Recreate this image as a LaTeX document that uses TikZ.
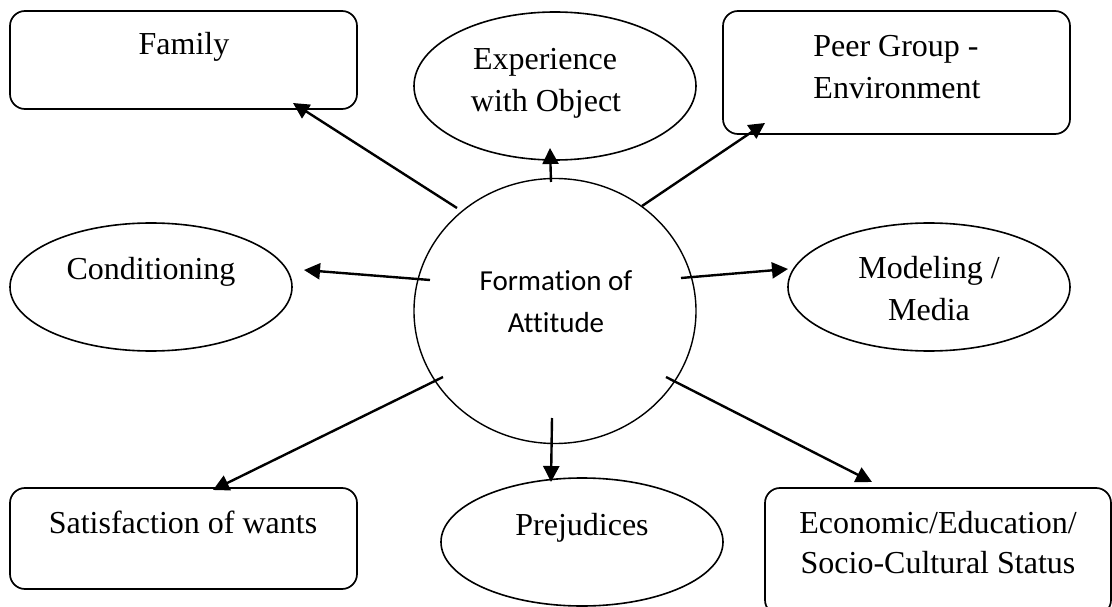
\documentclass[tikz,border=0pt]{standalone}
\usepackage{fontspec}
\setmainfont{Liberation Serif}
\newfontfamily\calfont[Ligatures=NoCommon]{Carlito}
\usetikzlibrary{shapes.geometric,arrows.meta}
\begin{document}
\begin{tikzpicture}[x=1pt,y=-1pt,
  box/.style={draw, line width=1.7pt, rounded corners=15pt, inner sep=0pt, rectangle},
  oval/.style={draw, ellipse, line width=1.6pt, inner sep=0pt},
  lbl/.style={anchor=base, inner sep=0pt, font=\fontsize{32}{38}\selectfont},
  clbl/.style={anchor=base, inner sep=0pt, font=\calfont\fontsize{29}{35}\selectfont},
  arr/.style={-{Triangle[length=16pt,width=16pt]}, line width=2.4pt}]
\useasboundingbox (0,0) rectangle (1112,607);
\fill[white] (0,0) rectangle (1112,607);
\clip (0,0) rectangle (1112,607);
% shapes
\node[box, minimum width=347pt, minimum height=98pt] (family) at (183.5,60) {};
\node[oval, minimum width=282pt, minimum height=148pt] (exper) at (555,86) {};
\node[box, minimum width=347pt, minimum height=123pt] (peer) at (896.5,72.5) {};
\node[oval, minimum width=282pt, minimum height=128pt] (cond) at (151,287) {};
\node[oval, line width=1.4pt, minimum width=282pt, minimum height=265pt] (form) at (555,311) {};
\node[oval, minimum width=282pt, minimum height=128pt] (model) at (929,287) {};
\node[box, minimum width=347pt, minimum height=101pt] (satis) at (183.5,538.5) {};
\node[oval, minimum width=282pt, minimum height=128pt] (prej) at (582,542) {};
\node[box, minimum width=346pt, minimum height=127pt] (econ) at (938,551.5) {};
% texts
\node[lbl] (tfamily) at (184,55) {Family};
\node[lbl] (texper1) at (545,70) {Experience};
\node[lbl] (texper2) at (546,112) {with Object};
\node[lbl] (tpeer1) at (896,57) {Peer Group -};
\node[lbl] (tpeer2) at (897,99) {Environment};
\node[lbl] (tcond) at (151,279) {Conditioning};
\node[clbl] (tform1) at (556,290) {Formation of};
\node[clbl] (tform2) at (556,332) {Attitude};
\node[lbl] (tmodel1) at (929,278) {Modeling /};
\node[lbl] (tmodel2) at (929,320) {Media};
\node[lbl] (tsatis) at (183,533) {Satisfaction of wants};
\node[lbl] (tprej) at (582,535) {Prejudices};
\node[lbl] (tecon1) at (938,533) {Economic/Education/};
\node[lbl] (tecon2) at (938,573) {Socio-Cultural Status};
% connector end points
\coordinate (sFam) at (457,208);  \coordinate (eFam) at (293,103);
\coordinate (sExp) at (551,182);  \coordinate (eExp) at (550,148);
\coordinate (sPeer) at (642,206); \coordinate (ePeer) at (765,123);
\coordinate (sCond) at (430,280); \coordinate (eCond) at (304,270);
\coordinate (sMod) at (681,278);  \coordinate (eMod) at (788,269);
\coordinate (sSat) at (443,377);  \coordinate (eSat) at (213,490);
\coordinate (sPrej) at (552,418); \coordinate (ePrej) at (551,482);
\coordinate (sEcon) at (666,377); \coordinate (eEcon) at (872,482);
% connectors
\draw[arr] (sFam) -- (eFam);
\draw[arr] (sExp) -- (eExp);
\draw[arr] (sPeer) -- (ePeer);
\draw[arr] (sCond) -- (eCond);
\draw[arr] (sMod) -- (eMod);
\draw[arr] (sSat) -- (eSat);
\draw[arr] (sPrej) -- (ePrej);
\draw[arr] (sEcon) -- (eEcon);
\end{tikzpicture}
\end{document}
